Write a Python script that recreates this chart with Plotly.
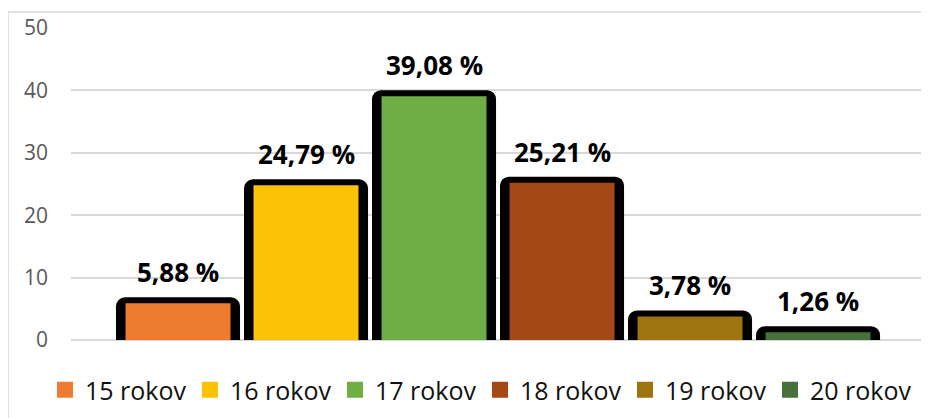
import plotly.graph_objects as go

# age groups and share of respondents (%)
categories = ["15 rokov", "16 rokov", "17 rokov", "18 rokov", "19 rokov", "20 rokov"]
shares = [5.88, 24.79, 39.08, 25.21, 3.78, 1.26]
colors = ["#EF7B31", "#FCC205", "#6EAE45", "#A44816", "#9D7410", "#48703A"]
y_ticks = [0, 10, 20, 30, 40, 50]

# the page body adds an 8px margin, so the figure is laid out 8px smaller
OFF = 8
W, H = 929 - OFF, 418 - OFF
ML, MR, MT, MB = 63, 6, 20, 78
pw, ph = W - ML - MR, H - MT - MB
FONT = "Open Sans"
Y_MAX = 50
OUTLINE_TOP = 6 * Y_MAX / ph  # ~6 px black rim above the fill, in data units


def px_x(x):
    # x in screenshot pixels -> paper fraction
    return (x - OFF - ML) / pw


def px_y(y):
    return (H - MB - (y - OFF)) / ph


fig = go.Figure()

# black rounded outline behind each bar
fig.add_trace(go.Bar(
    x=categories, y=[v + OUTLINE_TOP for v in shares], width=0.969,
    marker=dict(color="#000000", line=dict(width=0), cornerradius=9),
    showlegend=False, hoverinfo="skip",
))

for cat, val, col in zip(categories, shares, colors):
    fig.add_trace(go.Bar(
        x=[cat], y=[val], width=0.82,
        marker=dict(color=col, line=dict(width=0)),
        showlegend=False, hoverinfo="skip",
    ))
    # legend swatch
    fig.add_trace(go.Scatter(
        x=[None], y=[None], mode="markers", name=cat,
        marker=dict(symbol="square", size=17, color=col),
    ))
    fig.add_annotation(
        x=cat, y=val, yanchor="bottom", yshift=11, showarrow=False,
        text=f"{val:.2f}".replace(".", ",") + " %",
        font=dict(family=FONT, size=26, color="#000000", weight="bold"),
    )

# light frame around the chart
fig.add_shape(
    type="rect", xref="paper", yref="paper",
    x0=px_x(8), x1=px_x(940), y0=px_y(12), y1=px_y(430),
    line=dict(color="#D9D9D9", width=1.5), layer="below",
)

fig.update_layout(
    width=W, height=H,
    margin=dict(l=ML, r=MR, t=MT, b=MB, autoexpand=False),
    paper_bgcolor="white", plot_bgcolor="white",
    barmode="overlay",
    font=dict(family=FONT, color="#595959"),
    xaxis=dict(range=[-0.836, 5.82], showticklabels=False, showgrid=False,
               zeroline=False, showline=False),
    yaxis=dict(range=[0, Y_MAX], tickvals=y_ticks, showgrid=True, gridcolor="#D9D9D9",
               gridwidth=1.5, zeroline=True, zerolinecolor="#D9D9D9", zerolinewidth=1.5,
               showline=False, tickfont=dict(family=FONT, size=21, color="#595959"),
               ticklabelstandoff=22),
    legend=dict(orientation="h", x=px_x(45), xanchor="left", y=px_y(390), yanchor="middle",
                entrywidth=100, entrywidthmode="pixels",
                font=dict(family=FONT, size=25, color="#111111")),
    showlegend=True,
)

fig.write_html("out.html")
